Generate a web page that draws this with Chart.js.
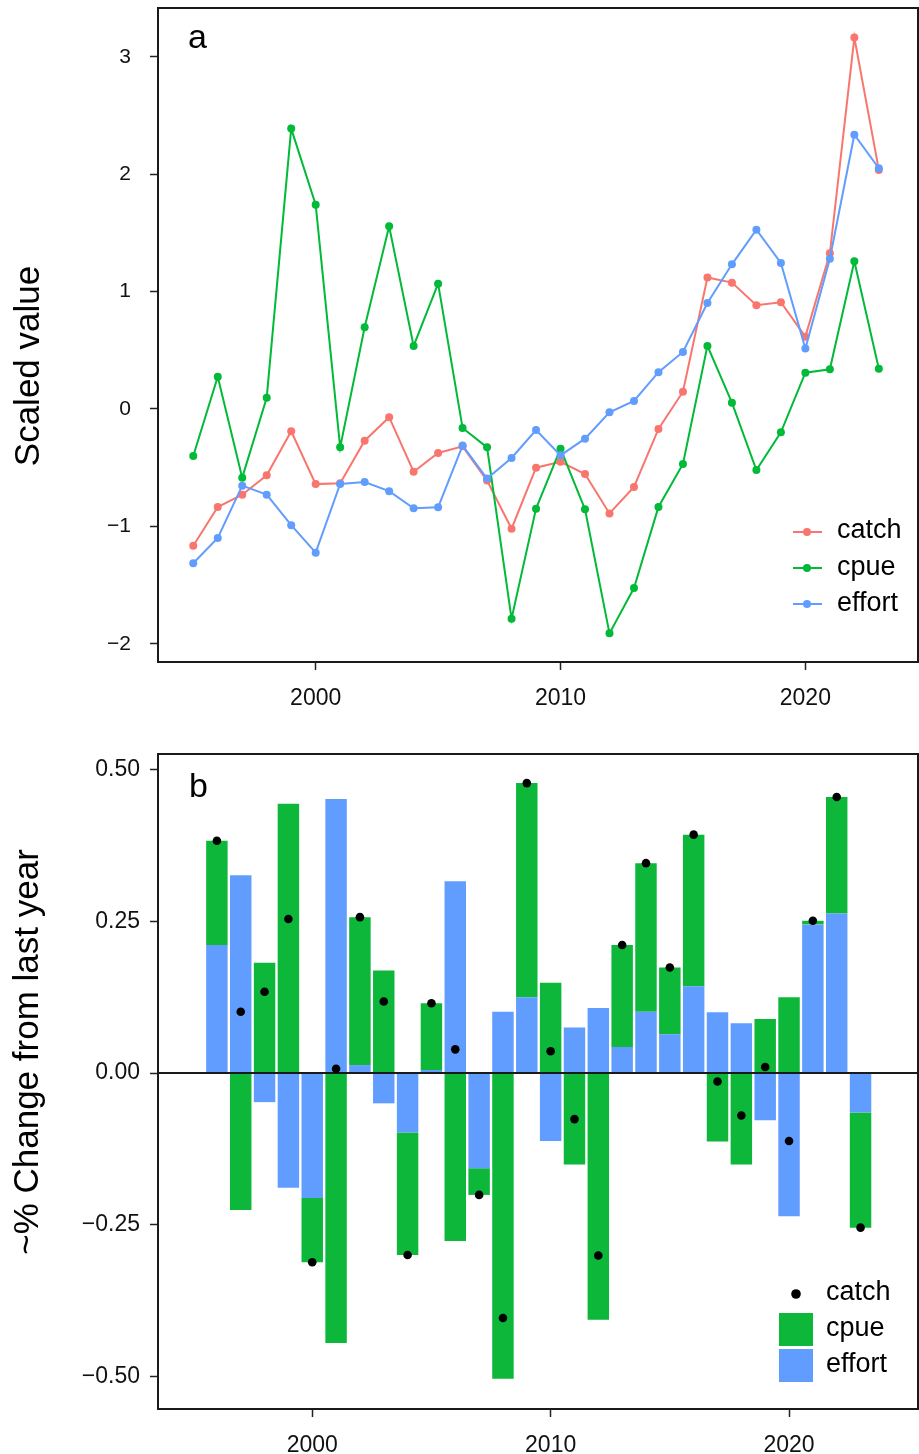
<!DOCTYPE html>
<html>
<head>
<meta charset="utf-8">
<script src="https://cdn.jsdelivr.net/npm/chart.js@4.4.1/dist/chart.umd.min.js"></script>
<style>
  html, body { margin: 0; padding: 0; background: #fff; }
  #wrap { position: relative; width: 919px; height: 1454px; background: #fff; }
  canvas { position: absolute; left: 0; }
</style>
</head>
<body>
<div id="wrap">
  <canvas id="c1" width="919" height="728" style="top:0"></canvas>
  <canvas id="c2" width="919" height="726" style="top:728px"></canvas>
</div>
<script>
// ---------- Panel a data (scaled values) ----------
const yearsA = [1995,1996,1997,1998,1999,2000,2001,2002,2003,2004,2005,2006,2007,2008,2009,2010,2011,2012,2013,2014,2015,2016,2017,2018,2019,2020,2021,2022,2023];
const catchA  = [-1.165,-0.835,-0.73,-0.565,-0.19,-0.64,-0.633,-0.27,-0.07,-0.534,-0.375,-0.318,-0.61,-1.02,-0.50,-0.45,-0.554,-0.89,-0.664,-0.17,0.147,1.12,1.076,0.883,0.909,0.616,1.326,3.163,2.036];
const cpueA   = [-0.40,0.275,-0.585,0.096,2.388,1.74,-0.327,0.696,1.556,0.537,1.067,-0.162,-0.327,-1.786,-0.849,-0.338,-0.855,-1.911,-1.525,-0.835,-0.468,0.537,0.054,-0.52,-0.199,0.309,0.338,1.258,0.343];
const effortA = [-1.314,-1.099,-0.653,-0.73,-0.99,-1.224,-0.639,-0.622,-0.70,-0.846,-0.837,-0.312,-0.593,-0.417,-0.179,-0.395,-0.253,-0.028,0.068,0.313,0.486,0.903,1.232,1.527,1.244,0.514,1.28,2.336,2.05];
const xTicksA = [2000, 2010, 2020];
const yTicksA = [-2, -1, 0, 1, 2, 3];

// ---------- Panel b data (change from last year) ----------
const yearsB = [1996,1997,1998,1999,2000,2001,2002,2003,2004,2005,2006,2007,2008,2009,2010,2011,2012,2013,2014,2015,2016,2017,2018,2019,2020,2021,2022,2023];
const effortB = [0.211,0.326,-0.048,-0.189,-0.206,0.452,0.013,-0.050,-0.098,0.005,0.316,-0.157,0.101,0.125,-0.112,0.075,0.107,0.043,0.101,0.064,0.143,0.100,0.082,-0.078,-0.236,0.245,0.263,-0.065];
const cpueB   = [0.172,-0.226,0.182,0.444,-0.106,-0.445,0.244,0.169,-0.202,0.110,-0.277,-0.044,-0.504,0.353,0.149,-0.151,-0.407,0.168,0.245,0.110,0.250,-0.113,-0.151,0.089,0.125,0.006,0.192,-0.190];
const catchB  = [0.383,0.101,0.134,0.254,-0.312,0.007,0.257,0.118,-0.300,0.115,0.039,-0.201,-0.404,0.478,0.036,-0.076,-0.301,0.211,0.346,0.174,0.393,-0.014,-0.070,0.010,-0.112,0.251,0.455,-0.255];
const xTicksB = [2000, 2010, 2020];
const yTicksB = [-0.50, -0.25, 0, 0.25, 0.50];

const FONT = "'Liberation Sans', Arial, Helvetica, sans-serif";
const RED = '#F8766D', GREEN = '#00BA38', BLUE = '#619CFF', BARGREEN = '#0CB73A';
const TXT = '#111111';
const minus = s => s.replace('-', '\u2212');

Chart.defaults.font.family = FONT;
Chart.defaults.color = TXT;

function pts(xs, ys) { return xs.map((x, i) => ({ x: x, y: ys[i] })); }
function noPad(s) { s.paddingTop = 0; s.paddingBottom = 0; s.paddingLeft = 0; s.paddingRight = 0; }

function frameAndText(opts) {
  return {
    id: 'frame' + opts.tag,
    beforeDatasetDraw(chart, args) {
      if (opts.zeroBefore !== undefined && args.index === opts.zeroBefore) {
        const ctx = chart.ctx, a = chart.chartArea;
        const y0 = chart.scales.y.getPixelForValue(0);
        ctx.save();
        ctx.strokeStyle = '#1a1a1a';
        ctx.lineWidth = 2;
        ctx.beginPath();
        ctx.moveTo(a.left, y0); ctx.lineTo(a.right, y0);
        ctx.stroke();
        ctx.restore();
      }
    },
    afterDraw(chart) {
      const ctx = chart.ctx, a = chart.chartArea;
      ctx.save();
      ctx.strokeStyle = '#1a1a1a';
      ctx.lineWidth = 2;
      ctx.strokeRect(a.left, a.top, a.right - a.left, a.bottom - a.top);
      ctx.fillStyle = '#000';
      ctx.font = '34px ' + FONT;
      ctx.textAlign = 'left';
      ctx.textBaseline = 'alphabetic';
      ctx.fillText(opts.tagText, opts.tagX, opts.tagY);
      ctx.save();
      ctx.translate(opts.titleX, opts.titleY);
      ctx.rotate(-Math.PI / 2);
      ctx.textAlign = 'center';
      ctx.textBaseline = 'middle';
      ctx.font = '35px ' + FONT;
      ctx.fillText(opts.title, 0, 0);
      ctx.restore();
      opts.legend(ctx);
      ctx.restore();
    }
  };
}

// ---------------- Chart a ----------------
new Chart(document.getElementById('c1'), {
  type: 'line',
  data: {
    datasets: [
      { label: 'catch', data: pts(yearsA, catchA), borderColor: RED, backgroundColor: RED, order: 2 },
      { label: 'cpue', data: pts(yearsA, cpueA), borderColor: GREEN, backgroundColor: GREEN, order: 1 },
      { label: 'effort', data: pts(yearsA, effortA), borderColor: BLUE, backgroundColor: BLUE, order: 0 }
    ]
  },
  options: {
    responsive: false,
    animation: false,
    devicePixelRatio: 1,
    elements: {
      line: { borderWidth: 2, tension: 0 },
      point: { radius: 4, borderWidth: 0, hoverRadius: 4 }
    },
    layout: { autoPadding: false, padding: { top: 8, right: 1, left: 0, bottom: 0 } },
    plugins: { legend: { display: false }, tooltip: { enabled: false } },
    scales: {
      x: {
        type: 'linear', min: 1993.56, max: 2024.6,
        afterFit: s => { s.height = 66; noPad(s); },
        afterBuildTicks: s => { s.ticks = xTicksA.map(v => ({ value: v })); },
        grid: { display: true, drawOnChartArea: false, tickLength: 8, tickColor: '#222', tickWidth: 1.5 },
        border: { display: false },
        ticks: { font: { size: 23 }, color: TXT, padding: 15, maxRotation: 0, callback: v => String(v) }
      },
      y: {
        type: 'linear', min: -2.155, max: 3.415,
        afterFit: s => { s.width = 158; noPad(s); },
        afterBuildTicks: s => { s.ticks = yTicksA.map(v => ({ value: v })); },
        grid: { display: true, drawOnChartArea: false, tickLength: 8, tickColor: '#222', tickWidth: 1.5 },
        border: { display: false },
        ticks: { font: { size: 21 }, color: TXT, padding: 19, callback: v => minus(String(v)) }
      }
    }
  },
  plugins: [frameAndText({
    tag: 'a', tagText: 'a', tagX: 188, tagY: 48,
    title: 'Scaled value', titleX: 29, titleY: 366,
    legend: ctx => {
      const items = [['catch', RED, 532, 538], ['cpue', GREEN, 568, 575], ['effort', BLUE, 604, 611]];
      items.forEach(([t, c, y, b]) => {
        ctx.strokeStyle = c; ctx.lineWidth = 2;
        ctx.beginPath(); ctx.moveTo(793, y); ctx.lineTo(822, y); ctx.stroke();
        ctx.fillStyle = c;
        ctx.beginPath(); ctx.arc(807, y, 4, 0, Math.PI * 2); ctx.fill();
        ctx.fillStyle = '#000';
        ctx.font = '27px ' + FONT;
        ctx.textAlign = 'left'; ctx.textBaseline = 'alphabetic';
        ctx.fillText(t, 837, b);
      });
    }
  })]
});

// ---------------- Chart b ----------------
new Chart(document.getElementById('c2'), {
  type: 'bar',
  data: {
    datasets: [
      { type: 'bar', label: 'effort', data: pts(yearsB, effortB), backgroundColor: BLUE, stack: 'bars', order: 1,
        borderWidth: 0, categoryPercentage: 0.9, barPercentage: 1.0 },
      { type: 'bar', label: 'cpue', data: pts(yearsB, cpueB), backgroundColor: BARGREEN, stack: 'bars', order: 1,
        borderWidth: 0, categoryPercentage: 0.9, barPercentage: 1.0 },
      { type: 'line', label: 'catch', data: pts(yearsB, catchB), showLine: false, stack: 'catch', order: 0,
        pointRadius: 4.3, pointHoverRadius: 4.3, pointBackgroundColor: '#000', pointBorderWidth: 0, borderColor: '#000' }
    ]
  },
  options: {
    responsive: false,
    animation: false,
    devicePixelRatio: 1,
    layout: { autoPadding: false, padding: { top: 26, right: 1, left: 0, bottom: 0 } },
    plugins: { legend: { display: false }, tooltip: { enabled: false } },
    scales: {
      x: {
        type: 'linear', min: 1993.53, max: 2025.41, offset: false, stacked: true,
        afterFit: s => { s.height = 45; noPad(s); },
        afterBuildTicks: s => { s.ticks = xTicksB.map(v => ({ value: v })); },
        grid: { display: true, offset: false, drawOnChartArea: false, tickLength: 8, tickColor: '#222', tickWidth: 1.5 },
        border: { display: false },
        ticks: { font: { size: 23 }, color: TXT, padding: 15, maxRotation: 0, callback: v => String(v) }
      },
      y: {
        type: 'linear', min: -0.554, max: 0.526, stacked: true,
        afterFit: s => { s.width = 158; noPad(s); },
        afterBuildTicks: s => { s.ticks = yTicksB.map(v => ({ value: v })); },
        grid: { display: true, drawOnChartArea: false, tickLength: 8, tickColor: '#222', tickWidth: 1.5 },
        border: { display: false },
        ticks: { font: { size: 23 }, color: TXT, padding: 10, callback: v => minus(Number(v).toFixed(2)) }
      }
    }
  },
  plugins: [frameAndText({
    tag: 'b', tagText: 'b', tagX: 189, tagY: 69, zeroBefore: 2,
    title: '~% Change from last year', titleX: 28, titleY: 324,
    legend: ctx => {
      ctx.fillStyle = '#000';
      ctx.beginPath(); ctx.arc(796, 566, 4.8, 0, Math.PI * 2); ctx.fill();
      ctx.fillStyle = BARGREEN; ctx.fillRect(779, 585, 34, 33);
      ctx.fillStyle = BLUE; ctx.fillRect(779, 621, 34, 33);
      ctx.fillStyle = '#000';
      ctx.font = '27px ' + FONT;
      ctx.textAlign = 'left'; ctx.textBaseline = 'alphabetic';
      ctx.fillText('catch', 826, 572);
      ctx.fillText('cpue', 826, 608);
      ctx.fillText('effort', 826, 644);
    }
  })]
});
</script>
</body>
</html>
